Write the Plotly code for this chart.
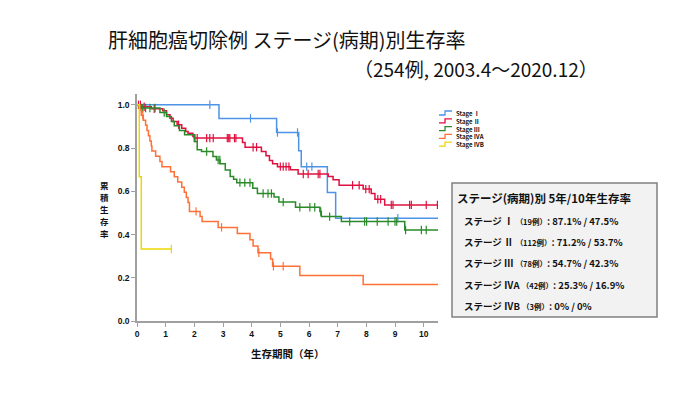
"""
Kaplan-Meier style survival curves by stage (hepatocellular carcinoma resection).
"""
import plotly.graph_objects as go

# ---- data ----
stages = ["Stage Ⅰ", "Stage Ⅱ", "Stage Ⅲ", "Stage ⅣA", "Stage ⅣB"]
colors = ["#4d94e6", "#e0103e", "#2a8a2a", "#ff7036", "#eed600"]

stage1_t = [0, 2.86, 4.87, 5.64, 5.73, 6.64, 6.93]
stage1_s = [1.0, 0.937, 0.872, 0.788, 0.714, 0.594, 0.475]
stage1_cens = [2.54, 3.96, 4.9, 5.6, 5.92, 6.1, 9.1]

stage2_t = [0, 0.15, 0.5, 0.9, 1.03, 1.15, 1.26, 1.4, 1.56, 1.7, 1.78, 1.95,
            2.0, 3.68, 3.77, 4.34, 4.5, 4.62, 4.73, 4.9, 5.35, 5.62, 6.67,
            6.84, 7.05, 7.89, 8.17, 8.3, 8.64]
stage2_s = [1.0, 0.991, 0.982, 0.973, 0.954, 0.938, 0.923, 0.908, 0.892,
            0.877, 0.869, 0.853, 0.846, 0.826, 0.804, 0.784, 0.764, 0.742,
            0.727, 0.714, 0.70, 0.68, 0.668, 0.653, 0.628, 0.61, 0.59, 0.563,
            0.537]
stage2_cens = [0.05, 0.12, 0.25, 0.6, 1.45, 2.02, 2.1, 2.43, 2.54, 2.66,
               3.15, 3.2, 3.24, 3.4, 3.45, 4.05, 4.17, 5.0, 5.1, 5.2, 5.3,
               5.8, 5.97, 6.32, 6.38, 7.52, 7.75, 7.98, 8.1, 8.4, 8.5, 8.87,
               8.93, 9.51, 9.57, 10.09, 10.48]

stage3_t = [0, 0.07, 0.12, 0.8, 1.03, 1.2, 1.3, 1.48, 1.66, 2.0, 2.1, 2.25,
            2.65, 2.77, 2.9, 3.08, 3.25, 3.37, 3.48, 4.04, 4.2, 4.78, 4.95,
            5.53, 6.38, 6.43, 7.13, 9.34]
stage3_s = [1.0, 0.993, 0.985, 0.964, 0.946, 0.923, 0.903, 0.881, 0.861,
            0.83, 0.792, 0.784, 0.761, 0.745, 0.727, 0.699, 0.668, 0.656,
            0.64, 0.614, 0.59, 0.573, 0.55, 0.526, 0.506, 0.483, 0.46, 0.421]
stage3_cens = [0.15, 0.2, 0.3, 0.45, 0.63, 0.95, 2.43, 2.83, 2.89, 3.59,
               3.76, 3.94, 4.4, 4.57, 4.69, 5.1, 5.68, 6.03, 6.2, 6.41, 6.72,
               7.42, 7.94, 8.01, 8.38, 8.76, 9.0, 9.06, 9.37, 9.92, 10.09]

stage4a_t = [0, 0.1, 0.15, 0.22, 0.3, 0.35, 0.4, 0.45, 0.5, 0.52, 0.65, 0.8,
             0.87, 1.17, 1.3, 1.42, 1.56, 1.65, 1.72, 1.78, 1.83, 2.2, 2.27,
             2.83, 3.5, 3.94, 4.05, 4.22, 4.66, 4.73, 5.68, 7.89]
stage4a_s = [1.0, 0.976, 0.952, 0.929, 0.905, 0.881, 0.857, 0.833, 0.81,
             0.786, 0.762, 0.738, 0.714, 0.69, 0.667, 0.643, 0.619, 0.595,
             0.571, 0.548, 0.507, 0.483, 0.46, 0.433, 0.405, 0.376, 0.347,
             0.316, 0.287, 0.253, 0.211, 0.169]
stage4a_cens = [0.2, 2.06, 2.95, 4.25, 4.76, 5.1]

stage4b_t = [0, 0.08, 0.15]
stage4b_s = [1.0, 0.667, 0.333]
stage4b_cens = [1.2]

followup_end = [10.5, 10.5, 10.5, 10.5, 1.2]

y_title = "累積生存率"
x_title = "生存期間（年）"

box_header = "ステージ(病期)別 5年/10年生存率"
box_labels = ["Ⅰ", "Ⅱ", "Ⅲ", "ⅣA", "ⅣB"]
box_n = [19, 112, 78, 42, 3]
rate_5y = ["87.1%", "71.2%", "54.7%", "25.3%", "0%"]
rate_10y = ["47.5%", "53.7%", "42.3%", "16.9%", "0%"]

curves = [
    (stage1_t, stage1_s, stage1_cens),
    (stage2_t, stage2_s, stage2_cens),
    (stage3_t, stage3_s, stage3_cens),
    (stage4a_t, stage4a_s, stage4a_cens),
    (stage4b_t, stage4b_s, stage4b_cens),
]

# ---- geometry (page pixels; the html body adds an 8px margin) ----
OFF = 8
W, H = 700 - OFF, 394 - OFF
PLOT_X0, PLOT_X1 = 137, 438
PLOT_Y0, PLOT_Y1 = 94, 321
L, R = PLOT_X0 - OFF, W - (PLOT_X1 - OFF)
T, B = PLOT_Y0 - OFF, H - (PLOT_Y1 - OFF)
JP = "Noto Sans CJK JP"


def px(x):
    return (x - PLOT_X0) / (PLOT_X1 - PLOT_X0)


def py(y):
    return (PLOT_Y1 - y) / (PLOT_Y1 - PLOT_Y0)


def surv_at(times, surv, t):
    s = surv[0]
    for ti, si in zip(times, surv):
        if ti <= t:
            s = si
    return s


def note(text, x, y, size, anchor="left", color="#111"):
    return dict(text=text, x=px(x), y=py(y), xref="paper", yref="paper",
                xanchor=anchor, yanchor="middle", showarrow=False,
                font=dict(family=JP, size=size, color=color))


fig = go.Figure()

for (t, s, cens), color, end in zip(curves, colors, followup_end):
    fig.add_trace(go.Scatter(
        x=t + [end], y=s + [s[-1]],
        mode="lines", line=dict(color=color, width=1.5, shape="hv"),
        hoverinfo="skip", showlegend=False,
    ))
    fig.add_trace(go.Scatter(
        x=cens, y=[surv_at(t, s, c) for c in cens],
        mode="markers",
        marker=dict(symbol="line-ns", size=6, color=color,
                    line=dict(width=1.2, color=color)),
        hoverinfo="skip", showlegend=False,
    ))

annotations = []
shapes = []

# titles
annotations.append(note("肝細胞癌切除例 ステージ(病期)別生存率", 106, 40, 20))
annotations.append(note("（254例, 2003.4～2020.12）", 600, 68, 19, anchor="right"))

# axis titles (y title stacked one character per row)
for i, ch in enumerate(y_title):
    n = note("<b>" + ch + "</b>", 104, 185 + i * 12, 8.5, anchor="center")
    n["borderpad"] = 0
    annotations.append(n)
annotations.append(note("<b>" + x_title + "</b>", 288, 353, 10.5, anchor="center"))

# hand-built compact legend: one text block, step glyphs beside each line
LEG_SIZE = 6
leg_gap = LEG_SIZE * 1.3
leg_top = 113
for i, color in enumerate(colors):
    ly = leg_top + i * leg_gap
    path = "M {:.4f},{:.4f} L {:.4f},{:.4f} L {:.4f},{:.4f} L {:.4f},{:.4f}".format(
        px(439), py(ly + 2), px(445), py(ly + 2), px(445), py(ly - 2), px(452), py(ly - 2))
    shapes.append(dict(type="path", path=path, xref="paper", yref="paper",
                       line=dict(color=color, width=1.3)))
legend_text = "<br>".join("<b>" + name + "</b>" for name in stages)
leg_mid = leg_top + (len(stages) - 1) * leg_gap / 2
leg_note = note(legend_text, 454, leg_mid, LEG_SIZE)
leg_note["align"] = "left"
annotations.append(leg_note)

# summary box
shapes.append(dict(type="rect", xref="paper", yref="paper",
                   x0=px(452), x1=px(657), y0=py(317), y1=py(183),
                   fillcolor="#f2f2f2", line=dict(color="#808080", width=1.5),
                   layer="below"))
annotations.append(note("<b>" + box_header + "</b>", 455, 198, 11.5))
box_y = [221, 242, 263, 285, 306]
for lab, n, r5, r10, by in zip(box_labels, box_n, rate_5y, rate_10y, box_y):
    txt = ("<b>ステージ " + lab + " <span style='font-size:7.5px'>（" + str(n)
           + "例）</span>: " + r5 + " / " + r10 + "</b>")
    annotations.append(note(txt, 462, by, 9.5))

axis_font = dict(family="Liberation Sans", size=8.5, color="#111", weight="bold")

fig.update_layout(
    width=W, height=H,
    margin=dict(l=L, r=R, t=T, b=B),
    paper_bgcolor="white", plot_bgcolor="white",
    showlegend=False,
    xaxis=dict(range=[0, 10.5], tickmode="linear", tick0=0, dtick=1,
               showgrid=False, zeroline=False, showline=True,
               linecolor="#a0a0a0", linewidth=1.5,
               ticks="outside", ticklen=4, tickcolor="#a0a0a0",
               tickfont=axis_font),
    yaxis=dict(range=[0, 1.05], tickmode="linear", tick0=0, dtick=0.2,
               tickformat=".1f",
               showgrid=False, zeroline=False, showline=True,
               linecolor="#a0a0a0", linewidth=1.5,
               ticks="outside", ticklen=4, tickcolor="#a0a0a0",
               tickfont=axis_font),
    annotations=annotations,
    shapes=shapes,
)

fig.write_html("out.html")
